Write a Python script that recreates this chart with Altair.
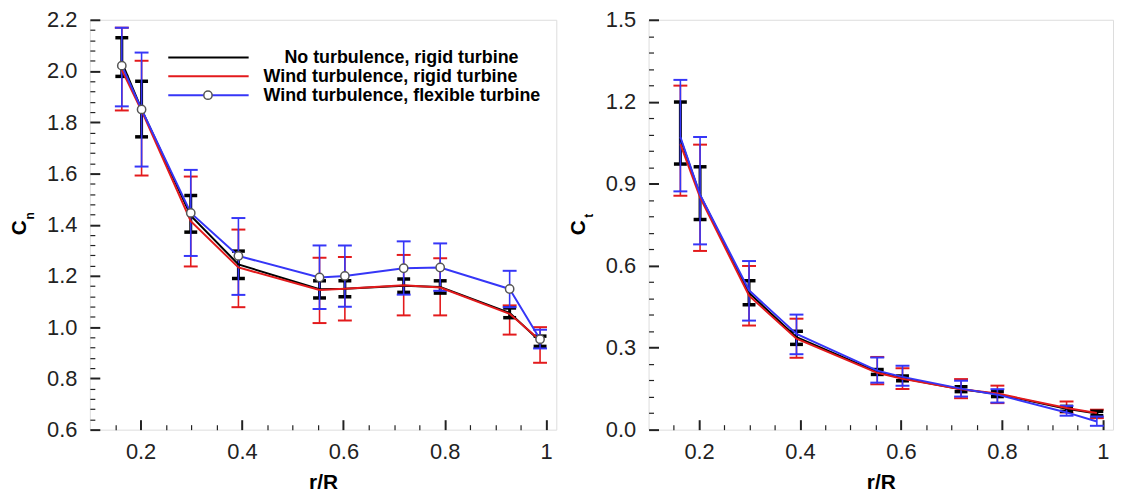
import altair as alt
import pandas as pd

# ---------------- data ----------------
r_pos = [0.163, 0.202, 0.299, 0.393, 0.553, 0.603, 0.719, 0.791, 0.928, 0.988]

series_names = ["No turbulence, rigid turbine",
                "Wind turbulence, rigid turbine",
                "Wind turbulence, flexible turbine"]

# Normal force coefficient C_n
cn_black = [2.035, 1.850, 1.435, 1.245, 1.148, 1.150, 1.162, 1.157, 1.056, 0.945]
cn_black_lo = [1.979, 1.743, 1.371, 1.190, 1.114, 1.119, 1.136, 1.133, 1.037, 0.925]
cn_black_hi = [2.130, 1.960, 1.514, 1.297, 1.181, 1.181, 1.188, 1.181, 1.075, 0.965]
cn_red = [2.005, 1.845, 1.414, 1.233, 1.145, 1.150, 1.164, 1.155, 1.052, 0.949]
cn_red_lo = [1.846, 1.592, 1.237, 1.078, 1.016, 1.026, 1.046, 1.046, 0.971, 0.861]
cn_red_hi = [2.169, 2.040, 1.588, 1.381, 1.271, 1.274, 1.282, 1.269, 1.085, 1.000]
cn_blue = [2.021, 1.850, 1.446, 1.278, 1.194, 1.200, 1.230, 1.233, 1.149, 0.953]
cn_blue_lo = [1.862, 1.627, 1.278, 1.126, 1.071, 1.080, 1.127, 1.142, 1.078, 0.917]
cn_blue_hi = [2.169, 2.072, 1.614, 1.426, 1.319, 1.319, 1.335, 1.327, 1.220, 0.990]

# Tangential force coefficient C_t
ct_black = [1.065, 0.858, 0.500, 0.338, 0.211, 0.188, 0.148, 0.130, 0.076, 0.059]
ct_black_lo = [0.972, 0.769, 0.457, 0.312, 0.202, 0.179, 0.139, 0.121, 0.067, 0.051]
ct_black_hi = [1.199, 0.962, 0.545, 0.360, 0.220, 0.196, 0.157, 0.139, 0.085, 0.067]
ct_red = [1.045, 0.850, 0.490, 0.333, 0.208, 0.186, 0.148, 0.132, 0.079, 0.061]
ct_red_lo = [0.856, 0.654, 0.381, 0.263, 0.166, 0.149, 0.115, 0.097, 0.063, 0.042]
ct_red_hi = [1.259, 1.043, 0.599, 0.406, 0.266, 0.225, 0.185, 0.161, 0.103, 0.073]
ct_blue = [1.071, 0.860, 0.510, 0.350, 0.216, 0.193, 0.150, 0.128, 0.063, 0.030]
ct_blue_lo = [0.872, 0.678, 0.399, 0.276, 0.172, 0.161, 0.121, 0.099, 0.051, 0.014]
ct_blue_hi = [1.280, 1.071, 0.617, 0.421, 0.264, 0.234, 0.179, 0.148, 0.087, 0.048]

x_major = [0.2, 0.4, 0.6, 0.8, 1.0]
x_minor = [0.15, 0.25, 0.3, 0.35, 0.45, 0.5, 0.55, 0.65, 0.7, 0.75, 0.85, 0.9, 0.95]
cn_major = [0.6, 0.8, 1.0, 1.2, 1.4, 1.6, 1.8, 2.0, 2.2]
cn_minor = [round(0.6 + 0.04 * i, 2) for i in range(41) if i % 5 != 0]
ct_major = [0.0, 0.3, 0.6, 0.9, 1.2, 1.5]
ct_minor = [round(0.06 * i, 2) for i in range(26) if i % 5 != 0]

# ---------------- styling ----------------
FONT = "Liberation Sans"
COL = {"black": "#000000", "red": "#e31a1c", "blue": "#3636f7"}
KEYS = ["black", "red", "blue"]


def frame(vals, lo, hi, name):
    return pd.DataFrame({"r": r_pos, "v": vals, "lo": lo, "hi": hi, "series": name})


def tick_axis(orient, offset, values, size, w):
    return alt.Axis(orient=orient, offset=offset, values=values, labels=False,
                    domain=False, grid=False, tickColor="#222", tickSize=size,
                    tickWidth=w, title=None)


def panel(sets, y_domain, y_major, y_minor, width, height, sym, sub, legend):
    xs = alt.Scale(domain=[0.1, 1.02], nice=False, zero=False)
    ys = alt.Scale(domain=y_domain, nice=False, zero=False)

    x_label_axis = alt.Axis(orient="bottom", values=x_major, format="~g", ticks=False,
                            tickSize=0, domain=False, grid=False, labelFont=FONT,
                            labelFontSize=22, labelColor="#222", labelPadding=12,
                            labelFlush=False, title="r/R", titleFont=FONT,
                            titleFontSize=21, titleFontWeight="bold", titleColor="#000",
                            titlePadding=9)
    y_label_axis = alt.Axis(orient="left", values=y_major, format=".1f", ticks=False,
                            tickSize=0, domain=False, grid=False, labelFont=FONT,
                            labelFontSize=22, labelColor="#222", labelPadding=13,
                            labelFlush=False, title=None)
    axes = {
        "red": (x_label_axis, y_label_axis),
        "black": (tick_axis("top", -height, x_major, 10, 2),
                  tick_axis("right", -width, y_major, 10, 2)),
        "blue": (tick_axis("top", -height, x_minor, 5, 1.2),
                 tick_axis("right", -width, y_minor, 5, 1.2)),
    }

    layers = []
    # error bars (red, black, blue)
    for key in ["red", "black", "blue"]:
        df = sets[key]
        xa, ya = axes[key]
        sw = 3 if key == "black" else 1.6
        rule = alt.Chart(df).mark_rule(color=COL[key], strokeWidth=sw).encode(
            x=alt.X("r:Q", scale=xs, axis=xa),
            y=alt.Y("lo:Q", scale=ys, axis=ya),
            y2="hi:Q",
        )
        caps = alt.Chart(df).transform_fold(["lo", "hi"], as_=["end", "val"]).mark_tick(
            orient="horizontal", color=COL[key],
            size=13 if key == "black" else 14,
            thickness=3.5 if key == "black" else 2,
            opacity=1,
        ).encode(
            x=alt.X("r:Q", scale=xs, axis=None),
            y=alt.Y("val:Q", scale=ys, axis=None),
        )
        layers += [rule, caps]

    # lines
    for key in ["black", "red", "blue"]:
        df = sets[key]
        layers.append(
            alt.Chart(df).mark_line(color=COL[key], strokeWidth=2).encode(
                x=alt.X("r:Q", scale=xs, axis=None),
                y=alt.Y("v:Q", scale=ys, axis=None),
                order="r:Q",
            )
        )
    if legend:
        layers.append(
            alt.Chart(sets["blue"]).mark_point(
                shape="circle", filled=True, fill="white", stroke="#555",
                strokeWidth=1.5, size=70, opacity=1,
            ).encode(
                x=alt.X("r:Q", scale=xs, axis=None),
                y=alt.Y("v:Q", scale=ys, axis=None),
            )
        )
        rows_y = [38, 57, 76]
        text_x = [196, 175, 175]
        for i, key in enumerate(KEYS):
            one = pd.DataFrame({"label": [series_names[i]]})
            layers.append(
                alt.Chart(one).mark_rule(color=COL[key], strokeWidth=2).encode(
                    x=alt.value(79), x2=alt.value(160), y=alt.value(rows_y[i])
                )
            )
            layers.append(
                alt.Chart(one).mark_text(
                    align="left", baseline="middle", font=FONT, fontSize=18,
                    fontWeight="bold", color="#000",
                ).encode(x=alt.value(text_x[i]), y=alt.value(rows_y[i] + 1), text="label:N")
            )
        layers.append(
            alt.Chart(pd.DataFrame({"label": [series_names[2]]})).mark_point(
                shape="circle", filled=True, fill="white", stroke="#555",
                strokeWidth=1.5, size=70, opacity=1,
            ).encode(x=alt.value(119), y=alt.value(rows_y[2]))
        )

    # y-axis title with subscript
    mid = height / 2
    layers.append(
        alt.Chart(pd.DataFrame({"t": [sym]})).mark_text(
            angle=270, align="center", baseline="middle", font=FONT, fontSize=21,
            fontWeight="bold", color="#000",
        ).encode(x=alt.value(-70), y=alt.value(mid + 3), text="t:N")
    )
    layers.append(
        alt.Chart(pd.DataFrame({"t": [sub]})).mark_text(
            angle=270, align="center", baseline="middle", font=FONT, fontSize=12,
            fontWeight="bold", color="#000",
        ).encode(x=alt.value(-60), y=alt.value(mid - 9), text="t:N")
    )

    return alt.layer(*layers).resolve_axis(x="independent", y="independent").properties(
        width=width, height=height
    )


cn_sets = {
    "black": frame(cn_black, cn_black_lo, cn_black_hi, series_names[0]),
    "red": frame(cn_red, cn_red_lo, cn_red_hi, series_names[1]),
    "blue": frame(cn_blue, cn_blue_lo, cn_blue_hi, series_names[2]),
}
ct_sets = {
    "black": frame(ct_black, ct_black_lo, ct_black_hi, series_names[0]),
    "red": frame(ct_red, ct_red_lo, ct_red_hi, series_names[1]),
    "blue": frame(ct_blue, ct_blue_lo, ct_blue_hi, series_names[2]),
}

left = panel(cn_sets, [0.6, 2.2], cn_major, cn_minor, 470, 413, "C", "n", True)
right = panel(ct_sets, [0.0, 1.5], ct_major, ct_minor, 468, 413, "C", "t", False)

chart = alt.hconcat(left, right, spacing=93, bounds="flush").properties(
    padding={"left": 0.5, "top": -2, "right": 0, "bottom": 0}
).configure_view(stroke="#2a2a2a", strokeWidth=2).configure(background="white")

chart.save("out.html", embed_options={"renderer": "svg", "actions": False})
